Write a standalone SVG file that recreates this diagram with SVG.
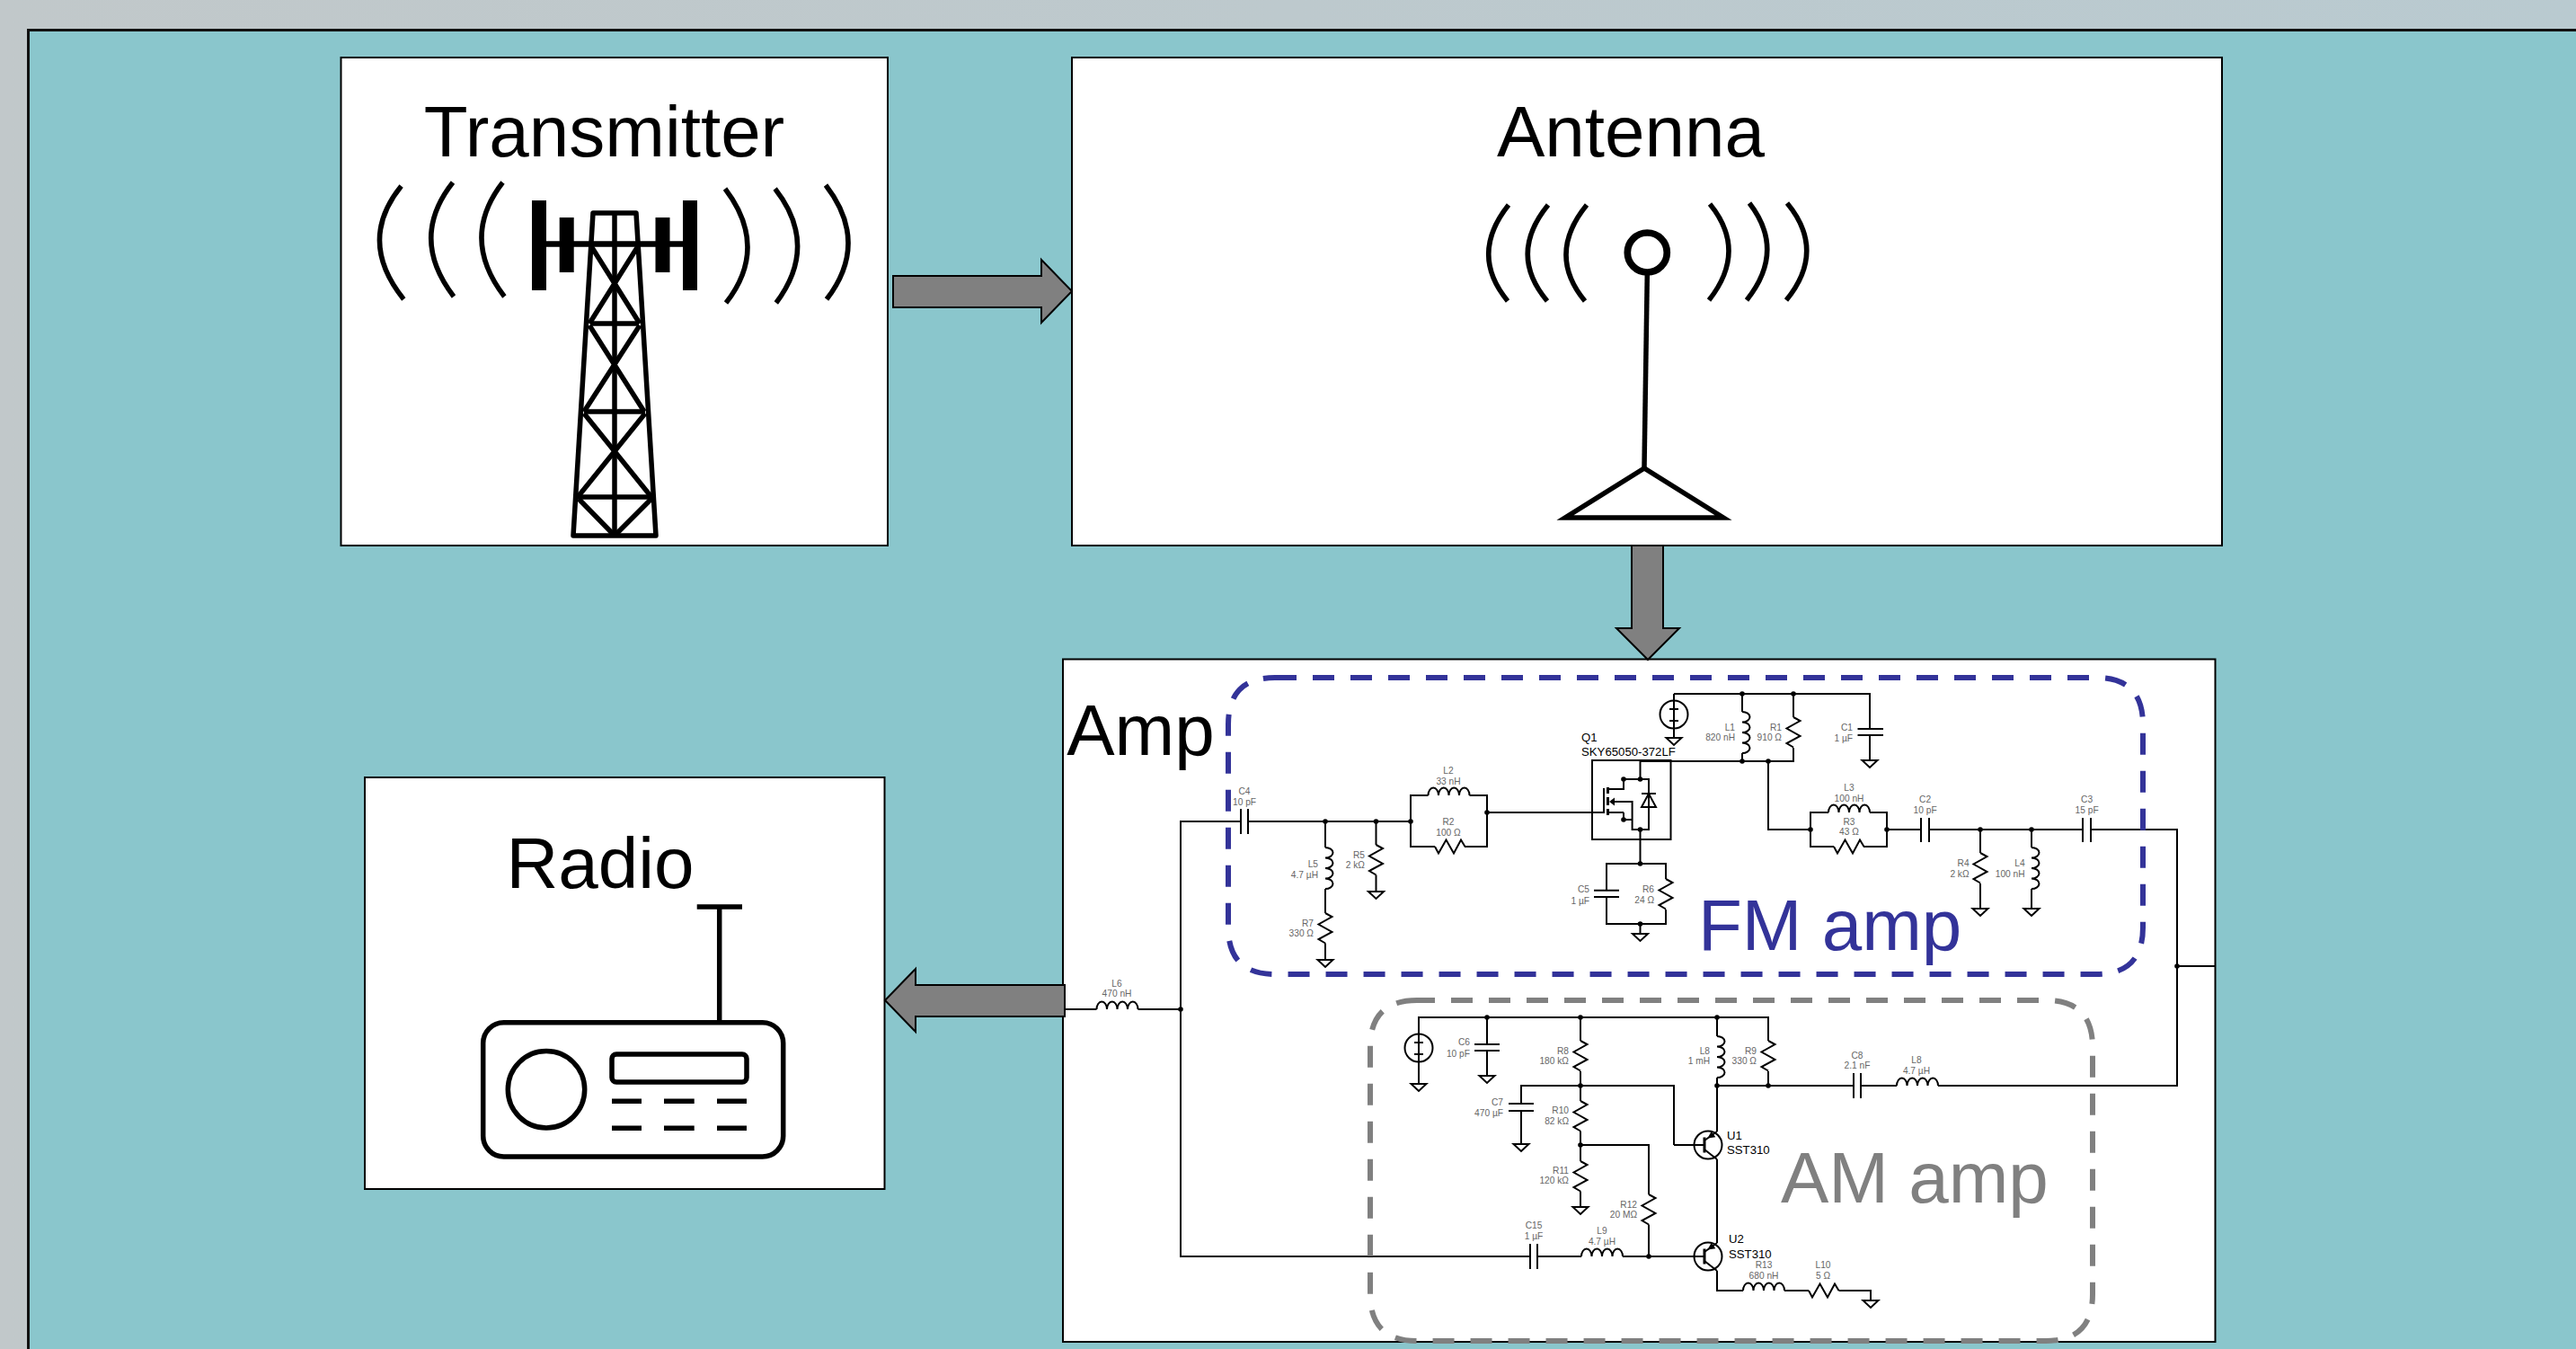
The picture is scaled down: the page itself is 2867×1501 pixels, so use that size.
<svg xmlns="http://www.w3.org/2000/svg" width="2867" height="1501" viewBox="0 0 2867 1501">
<style>
text{font-family:"Liberation Sans",Arial,sans-serif}
.box{fill:#fff;stroke:#000;stroke-width:2}
.title{font-size:80px;fill:#000;text-anchor:middle}
.w{fill:none;stroke:#000;stroke-width:2}
.t{fill:#666;font-size:10.2px}
.m{text-anchor:middle}
.e{text-anchor:end}
.k{fill:#000;font-size:13.2px}
.ic{fill:none;stroke:#000;stroke-width:5.5}
.ba{fill:#808080;stroke:#000;stroke-width:2}
.n{fill:#000}
</style>
<defs>
<linearGradient id="bg" x1="0" y1="0" x2="1" y2="0"><stop offset="0" stop-color="#c1c8ca"/><stop offset="1" stop-color="#b9cad0"/></linearGradient>
<path id="L" class="w" d="M0 0A5.75 8.5 0 0 1 11.5 0A5.75 8.5 0 0 1 23 0A5.75 8.5 0 0 1 34.5 0A5.75 8.5 0 0 1 46 0"/>
<path id="R" class="w" d="M0 0L4 -7.5L12.5 7.5L21 -7.5L29 7.5L33.5 0"/>
<path id="G" d="M-8.5 0H8.5L0 8Z" fill="#fff" stroke="#000" stroke-width="2"/>
<circle id="N" class="n" r="2.8"/>
<g id="S"><ellipse rx="15.5" ry="15.5" fill="none" stroke="#000" stroke-width="2"/><path class="w" d="M-5 -6H5M-5 7H5M0 -15.5V15.5"/></g>
<g id="Qn"><circle r="15.5" fill="none" stroke="#000" stroke-width="2"/><path d="M-4 -8.5V8.5" fill="none" stroke="#000" stroke-width="3"/><path class="w" d="M-4 -5L10 -15M-4 5L10 16"/><path class="n" d="M-0.5 -7.5L8.3 -8.8L3.7 -15.2Z"/></g>
</defs>

<rect width="2867" height="1501" fill="url(#bg)"/>
<rect x="31.5" y="33.5" width="2900" height="1520" fill="#8ac6cc" stroke="#111" stroke-width="3"/>

<g id="transmitter">
<rect class="box" x="379.5" y="64" width="608.5" height="543"/>
<text class="title" x="672.500" y="174">Transmitter</text>
<rect x="592" y="223" width="16" height="100"/><rect x="622.7" y="242" width="16" height="61"/><rect x="729.5" y="242" width="16" height="61"/><rect x="760" y="223" width="16" height="100"/>
<g class="ic">
<path stroke-width="6.500" d="M608 271.500H760"/>
<path stroke-linejoin="round" d="M638 596L660 237H708L730 596Z"/>
<path d="M684 237V596M657 360H711M650 458H718M642 553H726"/>
<path d="M658 274L712 360M710 274L656 360M656 362L717 458M712 362L650 458M650 460L725 553M718 460L643 553M644 555L684 596M725 555L684 596"/>
<path d="M446.6 207Q397 268 449.3 333M504 203Q455 265 505 330M559.5 203Q511.500 265 561.400 330"/>
<path d="M807 210Q856.500 275 808 337M862.600 210Q912 273 863.800 337M919 206Q968.500 270 920 333"/>
</g>
</g>

<g id="antenna">
<rect class="box" x="1193" y="64" width="1280" height="543"/>
<text class="title" x="1815" y="174">Antenna</text>
<circle cx="1833.300" cy="281" r="22" fill="none" stroke="#000" stroke-width="7.700"/>
<g class="ic">
<path d="M1833.300 305L1830 520"/>
<path stroke-miterlimit="20" d="M1830 521L1742 576H1918Z"/>
<path d="M1679 228Q1635 283 1678 335M1723 228Q1678 283 1722 335M1766 228Q1721 283 1764 335"/>
<path d="M1903 227Q1945.500 279 1902 334M1947 226Q1988 279 1944 334M1989 226Q2033 279 1988 334"/>
</g>
</g>

<g id="radio">
<rect class="box" x="406" y="865" width="578.500" height="458"/>
<text class="title" x="668" y="988">Radio</text>
<g class="ic">
<rect x="537.700" y="1137.700" width="334" height="149.300" rx="23"/>
<path d="M800.700 1009V1137M775.700 1009H826"/>
<circle cx="608" cy="1212.300" r="42.700"/>
<rect x="681" y="1173" width="150" height="31" rx="5"/>
<path d="M681 1225.300H714M739 1225.300H772.700M798 1225.300H831M681 1255.300H714M739 1255.300H772.700M798 1255.300H831"/>
</g>
</g>

<g id="amp">
<rect class="box" x="1183" y="733.500" width="1282.500" height="759.500"/>
<text class="title" x="1269.500" y="840">Amp</text>
</g>

<g id="connectors">
<path class="ba" d="M994 307H1159V289L1193 324L1159 359V342H994Z"/>
<path class="ba" d="M1816 607H1851V699H1869L1834 734L1799 699H1816Z"/>
<path class="ba" d="M1185 1096H1019V1078L985 1113L1019 1148V1131H1185Z"/>
<g id="wires" class="w">
<path d="M1381 914H1314V1398H1703M1711 1398H1760M1806 1398H1897"/>
<path d="M1185 1123H1220.500M1266.500 1123H1314"/>
<path d="M1381 900V928M1389 900V928M1389 914H1570"/>
<path d="M1597 942H1570V885H1589.500M1635.500 885H1655V942H1630M1655 904H1784"/>
<path d="M1475 914V943M1475 989V1016M1475 1049.500V1068M1531.500 914V940M1531.500 973.500V992"/>
<rect x="1772" y="846" width="87.500" height="88"/>
<path d="M1825.500 847V867H1807V878H1790M1825.500 867H1835V923H1816.600V892H1796M1807 904H1790M1807 904V912H1816.600M1825.500 923V961"/>
<path d="M1785 877V905M1827 883H1843M1835 883L1827 898H1843Z"/>
<path stroke-width="3" d="M1789.500 876V883M1789.500 887V896M1789.500 900V907"/>
<path d="M1825.500 847H1996V832M1996 798V772M1939 847V838M1939 792V772M1863 772H2081V811M2067.500 811H2096M2067.500 818H2096M2081 818V846"/>
<path d="M1863 772V821M1968 847V923H2015"/>
<path d="M2041 942H2015V904H2035M2081 904H2100V942H2074M2100 923H2138M2138 910V937M2147 910V937M2147 923H2318M2318 910V937M2327 910V937M2327 923H2423V1208H2157M2423 1075H2465"/>
<path d="M2204 923V949M2204 983V1011M2261 923V943M2261 989V1011"/>
<path d="M1825.500 961H1788V990.700M1774 990.700H1802M1774 998H1802M1788 998V1028H1854V1012M1854 978V961H1825.500M1825.500 1028V1039"/>
<path d="M1579 1206V1132H1968V1158M1655 1132V1162M1641 1162H1669M1641 1169H1669M1655 1169V1197"/>
<path d="M1759 1132V1158M1759 1192V1225M1759 1258.500V1292M1759 1325.500V1343"/>
<path d="M1863 1274V1208H1693V1228M1679 1228H1707M1679 1236H1707M1693 1236V1273M1863 1274H1897"/>
<path d="M1759 1274H1835V1329M1835 1362.500V1398"/>
<path d="M1703 1384V1412M1711 1384V1412"/>
<path d="M1911 1132V1153M1911 1199V1259M1911 1290V1383M1911 1414V1436H1940M1986 1436H2013M2046.500 1436H2082V1447"/>
<path d="M1911 1208H2063M2071 1208H2111M1968 1192V1208M2063 1194V1222M2071 1194V1222"/>
</g>
<path class="n" d="M1791 892L1797 887.500V896.500Z"/>
<g>
<use href="#N" x="1475" y="914"/><use href="#N" x="1531.500" y="914"/><use href="#N" x="1570" y="914"/><use href="#N" x="1655" y="904"/>
<use href="#N" x="1807" y="867"/><use href="#N" x="1825.500" y="867"/><use href="#N" x="1807" y="912"/><use href="#N" x="1825.500" y="923"/><use href="#N" x="1825.500" y="961"/><use href="#N" x="1825.500" y="1028"/>
<use href="#N" x="1939" y="772"/><use href="#N" x="1996" y="772"/><use href="#N" x="1939" y="847"/><use href="#N" x="1968" y="847"/>
<use href="#N" x="2015" y="923"/><use href="#N" x="2100" y="923"/><use href="#N" x="2204" y="923"/><use href="#N" x="2261" y="923"/><use href="#N" x="2423" y="1075"/>
<use href="#N" x="1314" y="1123"/>
<use href="#N" x="1655" y="1132"/><use href="#N" x="1759" y="1132"/><use href="#N" x="1911" y="1132"/><use href="#N" x="1759" y="1208"/><use href="#N" x="1911" y="1208"/><use href="#N" x="1968" y="1208"/><use href="#N" x="1759" y="1274"/><use href="#N" x="1835" y="1398"/>
</g>
</g>

<g id="L6"><use href="#L" transform="translate(1220.500 1123)"/><text class="t m"><tspan x="1243" y="1098">L6</tspan><tspan x="1243" y="1109">470 nH</tspan></text></g>

<g id="fm-amp">
<g id="C4"><text class="t m"><tspan x="1385" y="884">C4</tspan><tspan x="1385" y="896">10 pF</tspan></text></g>
<g id="L2"><use href="#L" transform="translate(1589.500 885)"/><text class="t m"><tspan x="1612" y="861">L2</tspan><tspan x="1612" y="873">33 nH</tspan></text></g>
<g id="R2"><use href="#R" transform="translate(1597 942) scale(1 -1)"/><text class="t m"><tspan x="1612" y="918">R2</tspan><tspan x="1612" y="929.500">100 Ω</tspan></text></g>
<g id="L5"><use href="#L" transform="translate(1475 943) rotate(90)"/><text class="t e"><tspan x="1467" y="965">L5</tspan><tspan x="1467" y="977">4.7 µH</tspan></text></g>
<g id="R5"><use href="#R" transform="translate(1531.500 940) rotate(90)"/><use href="#G" x="1531.500" y="992"/><text class="t e"><tspan x="1519" y="955">R5</tspan><tspan x="1519" y="966">2 kΩ</tspan></text></g>
<g id="R7"><use href="#R" transform="translate(1475 1016) rotate(90)"/><use href="#G" x="1475" y="1068"/><text class="t e"><tspan x="1462" y="1031">R7</tspan><tspan x="1462" y="1042">330 Ω</tspan></text></g>
<g id="Q1"><text class="k"><tspan x="1760" y="825">Q1</tspan><tspan x="1760" y="841">SKY65050-372LF</tspan></text></g>
<g id="C5"><use href="#G" x="1825.500" y="1039"/><text class="t e"><tspan x="1769" y="993">C5</tspan><tspan x="1769" y="1006">1 µF</tspan></text></g>
<g id="R6"><use href="#R" transform="translate(1854 978) rotate(90)"/><text class="t e"><tspan x="1841" y="993">R6</tspan><tspan x="1841" y="1005">24 Ω</tspan></text></g>
<g id="V1"><use href="#S" x="1863" y="795"/><use href="#G" x="1863" y="821"/></g>
<g id="L1"><use href="#L" transform="translate(1939 792) rotate(90)"/><text class="t e"><tspan x="1931" y="813">L1</tspan><tspan x="1931" y="824">820 nH</tspan></text></g>
<g id="R1"><use href="#R" transform="translate(1996 798) rotate(90)"/><text class="t e"><tspan x="1983" y="813">R1</tspan><tspan x="1983" y="824">910 Ω</tspan></text></g>
<g id="C1"><use href="#G" x="2081" y="846"/><text class="t e"><tspan x="2062" y="813">C1</tspan><tspan x="2062" y="825">1 µF</tspan></text></g>
<g id="L3"><use href="#L" transform="translate(2035 904)"/><text class="t m"><tspan x="2058" y="880">L3</tspan><tspan x="2058" y="892">100 nH</tspan></text></g>
<g id="R3"><use href="#R" transform="translate(2041 942) scale(1 -1)"/><text class="t m"><tspan x="2058" y="918">R3</tspan><tspan x="2058" y="929">43 Ω</tspan></text></g>
<g id="C2"><text class="t m"><tspan x="2142.600" y="893">C2</tspan><tspan x="2142.600" y="905">10 pF</tspan></text></g>
<g id="C3"><text class="t m"><tspan x="2322.600" y="893">C3</tspan><tspan x="2322.600" y="905">15 pF</tspan></text></g>
<g id="R4"><use href="#R" transform="translate(2204 949) rotate(90)"/><use href="#G" x="2204" y="1011"/><text class="t e"><tspan x="2191.600" y="964">R4</tspan><tspan x="2191.600" y="976">2 kΩ</tspan></text></g>
<g id="L4"><use href="#L" transform="translate(2261 943) rotate(90)"/><use href="#G" x="2261" y="1011"/><text class="t e"><tspan x="2253.600" y="964">L4</tspan><tspan x="2253.600" y="976">100 nH</tspan></text></g>
<path fill="none" stroke="#333399" stroke-width="6" stroke-dasharray="24 18" d="M1419 754H2333Q2385 754 2385 806V1032Q2385 1084 2333 1084H1419Q1367 1084 1367 1032V806Q1367 754 1419 754Z"/>
<text x="1890" y="1057" font-size="80" fill="#333399">FM amp</text>
</g>

<g id="am-amp">
<g id="V2"><use href="#S" x="1579" y="1166"/><use href="#G" x="1579" y="1206"/></g>
<g id="C6"><use href="#G" x="1655" y="1197"/><text class="t e"><tspan x="1636" y="1163">C6</tspan><tspan x="1636" y="1176">10 pF</tspan></text></g>
<g id="R8"><use href="#R" transform="translate(1759 1158) rotate(90)"/><text class="t e"><tspan x="1746" y="1173">R8</tspan><tspan x="1746" y="1184">180 kΩ</tspan></text></g>
<g id="C7"><use href="#G" x="1693" y="1273"/><text class="t e"><tspan x="1673" y="1230">C7</tspan><tspan x="1673" y="1242">470 µF</tspan></text></g>
<g id="R10"><use href="#R" transform="translate(1759 1225) rotate(90)"/><text class="t e"><tspan x="1746" y="1239">R10</tspan><tspan x="1746" y="1251">82 kΩ</tspan></text></g>
<g id="R11"><use href="#R" transform="translate(1759 1292) rotate(90)"/><use href="#G" x="1759" y="1343"/><text class="t e"><tspan x="1746" y="1306">R11</tspan><tspan x="1746" y="1317">120 kΩ</tspan></text></g>
<g id="R12"><use href="#R" transform="translate(1835 1329) rotate(90)"/><text class="t e"><tspan x="1822" y="1344">R12</tspan><tspan x="1822" y="1355">20 MΩ</tspan></text></g>
<g id="L8a"><use href="#L" transform="translate(1911 1153) rotate(90)"/><text class="t e"><tspan x="1903" y="1173">L8</tspan><tspan x="1903" y="1184">1 mH</tspan></text></g>
<g id="R9"><use href="#R" transform="translate(1968 1158) rotate(90)"/><text class="t e"><tspan x="1955" y="1173">R9</tspan><tspan x="1955" y="1184">330 Ω</tspan></text></g>
<g id="C15"><text class="t m"><tspan x="1707" y="1367">C15</tspan><tspan x="1707" y="1379">1 µF</tspan></text></g>
<g id="L9"><use href="#L" transform="translate(1760 1398)"/><text class="t m"><tspan x="1783" y="1373">L9</tspan><tspan x="1783" y="1385">4.7 µH</tspan></text></g>
<g id="U1"><use href="#Qn" x="1901" y="1274"/><text class="k"><tspan x="1922" y="1268">U1</tspan><tspan x="1922" y="1284">SST310</tspan></text></g>
<g id="U2"><use href="#Qn" x="1901" y="1398"/><text class="k"><tspan x="1924" y="1383">U2</tspan><tspan x="1924" y="1400">SST310</tspan></text></g>
<g id="R13"><use href="#L" transform="translate(1940 1436)"/><text class="t m"><tspan x="1963" y="1411">R13</tspan><tspan x="1963" y="1423">680 nH</tspan></text></g>
<g id="L10"><use href="#R" transform="translate(2013 1436) scale(1 -1)"/><use href="#G" x="2082" y="1447"/><text class="t m"><tspan x="2029" y="1411">L10</tspan><tspan x="2029" y="1423">5 Ω</tspan></text></g>
<g id="C8"><text class="t m"><tspan x="2067" y="1178">C8</tspan><tspan x="2067" y="1189">2.1 nF</tspan></text></g>
<g id="L8b"><use href="#L" transform="translate(2111 1208)"/><text class="t m"><tspan x="2133" y="1183">L8</tspan><tspan x="2133" y="1195">4.7 µH</tspan></text></g>
<path fill="none" stroke="#808080" stroke-width="6" stroke-dasharray="24 18" stroke-dashoffset="4" d="M1577 1113H2277Q2329 1113 2329 1165V1440Q2329 1492 2277 1492H1577Q1525 1492 1525 1440V1165Q1525 1113 1577 1113Z"/>
<text x="1982" y="1338" font-size="80" fill="#808080">AM amp</text>
</g>
</svg>
